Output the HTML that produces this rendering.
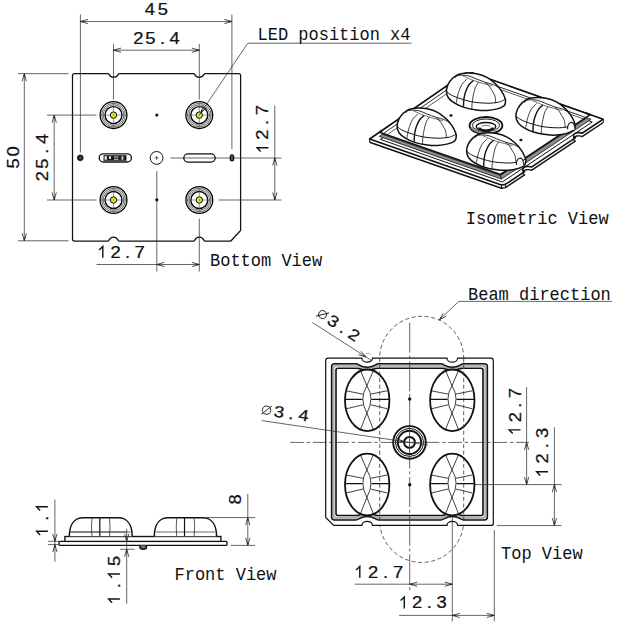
<!DOCTYPE html>
<html><head><meta charset="utf-8"><style>
html,body{margin:0;padding:0;background:#fff;overflow:hidden}
svg{display:block}
</style></head><body>
<svg width="617" height="625" viewBox="0 0 617 625">
<rect width="617" height="625" fill="#fff"/>
<path d="M74.5,73.6 L108.00,73.60 C109.30,73.60 109.00,77.30 113.60,77.30 C118.20,77.30 117.90,73.60 119.20,73.60 L193.70,73.60 C195.00,73.60 194.70,77.30 199.30,77.30 C203.90,77.30 203.60,73.60 204.90,73.60 L238.6,73.6 Q240.6,73.6 240.6,75.6 L240.6,230.5 L230.79999999999998,241.0 L204.70,241.00 C203.40,241.00 203.70,237.10 199.30,237.10 C194.90,237.10 195.20,241.00 193.90,241.00 L118.90,241.00 C117.60,241.00 117.90,237.10 113.50,237.10 C109.10,237.10 109.40,241.00 108.10,241.00 L74.5,241.0 Q72.5,241.0 72.5,239.0 L72.5,75.6 Q72.5,73.6 74.5,73.6 Z" fill="none" stroke="#111" stroke-width="1.25"/>
<line x1="156.80" y1="171.00" x2="156.80" y2="271.50" stroke="#333" stroke-width="0.75" />
<line x1="199.30" y1="218.80" x2="199.30" y2="271.50" stroke="#333" stroke-width="0.75" />
<line x1="113.50" y1="44.00" x2="113.50" y2="99.50" stroke="#333" stroke-width="0.75" />
<line x1="199.30" y1="44.00" x2="199.30" y2="99.50" stroke="#333" stroke-width="0.75" />
<line x1="80.40" y1="14.50" x2="80.40" y2="152.50" stroke="#333" stroke-width="0.75" />
<line x1="231.90" y1="14.50" x2="231.90" y2="149.00" stroke="#333" stroke-width="0.75" />
<line x1="170.40" y1="158.00" x2="281.50" y2="158.00" stroke="#333" stroke-width="0.75" />
<line x1="218.40" y1="200.00" x2="281.50" y2="200.00" stroke="#333" stroke-width="0.75" />
<line x1="47.00" y1="115.10" x2="96.50" y2="115.10" stroke="#333" stroke-width="0.75" />
<line x1="47.00" y1="200.00" x2="96.50" y2="200.00" stroke="#333" stroke-width="0.75" />
<line x1="18.00" y1="73.70" x2="68.50" y2="73.70" stroke="#333" stroke-width="0.75" />
<line x1="18.00" y1="240.80" x2="68.50" y2="240.80" stroke="#333" stroke-width="0.75" />
<circle cx="113.5" cy="115.1" r="13.4" fill="#fff" stroke="#000" stroke-width="1.3"/>
<circle cx="113.5" cy="115.1" r="11.8" fill="none" stroke="#000" stroke-width="0.6"/>
<circle cx="113.5" cy="115.1" r="10.3" fill="none" stroke="#000" stroke-width="0.6"/>
<circle cx="113.5" cy="115.1" r="8.5" fill="none" stroke="#000" stroke-width="1.4"/>
<line x1="113.50" y1="102.60" x2="113.50" y2="127.60" stroke="#555" stroke-width="0.6" />
<line x1="101.00" y1="115.10" x2="126.00" y2="115.10" stroke="#555" stroke-width="0.6" />
<circle cx="113.5" cy="115.1" r="3.2" fill="#e3e02a" stroke="#111" stroke-width="1.0"/>
<circle cx="113.5" cy="115.1" r="0.7" fill="#777"/>
<circle cx="199.3" cy="115.1" r="13.4" fill="#fff" stroke="#000" stroke-width="1.3"/>
<circle cx="199.3" cy="115.1" r="11.8" fill="none" stroke="#000" stroke-width="0.6"/>
<circle cx="199.3" cy="115.1" r="10.3" fill="none" stroke="#000" stroke-width="0.6"/>
<circle cx="199.3" cy="115.1" r="8.5" fill="none" stroke="#000" stroke-width="1.4"/>
<line x1="199.30" y1="102.60" x2="199.30" y2="127.60" stroke="#555" stroke-width="0.6" />
<line x1="186.80" y1="115.10" x2="211.80" y2="115.10" stroke="#555" stroke-width="0.6" />
<circle cx="199.3" cy="115.1" r="3.2" fill="#e3e02a" stroke="#111" stroke-width="1.0"/>
<circle cx="199.3" cy="115.1" r="0.7" fill="#777"/>
<circle cx="113.5" cy="200.0" r="13.4" fill="#fff" stroke="#000" stroke-width="1.3"/>
<circle cx="113.5" cy="200.0" r="11.8" fill="none" stroke="#000" stroke-width="0.6"/>
<circle cx="113.5" cy="200.0" r="10.3" fill="none" stroke="#000" stroke-width="0.6"/>
<circle cx="113.5" cy="200.0" r="8.5" fill="none" stroke="#000" stroke-width="1.4"/>
<line x1="113.50" y1="187.50" x2="113.50" y2="212.50" stroke="#555" stroke-width="0.6" />
<line x1="101.00" y1="200.00" x2="126.00" y2="200.00" stroke="#555" stroke-width="0.6" />
<circle cx="113.5" cy="200.0" r="3.2" fill="#e3e02a" stroke="#111" stroke-width="1.0"/>
<circle cx="113.5" cy="200.0" r="0.7" fill="#777"/>
<circle cx="199.3" cy="200.0" r="13.4" fill="#fff" stroke="#000" stroke-width="1.3"/>
<circle cx="199.3" cy="200.0" r="11.8" fill="none" stroke="#000" stroke-width="0.6"/>
<circle cx="199.3" cy="200.0" r="10.3" fill="none" stroke="#000" stroke-width="0.6"/>
<circle cx="199.3" cy="200.0" r="8.5" fill="none" stroke="#000" stroke-width="1.4"/>
<line x1="199.30" y1="187.50" x2="199.30" y2="212.50" stroke="#555" stroke-width="0.6" />
<line x1="186.80" y1="200.00" x2="211.80" y2="200.00" stroke="#555" stroke-width="0.6" />
<circle cx="199.3" cy="200.0" r="3.2" fill="#e3e02a" stroke="#111" stroke-width="1.0"/>
<circle cx="199.3" cy="200.0" r="0.7" fill="#777"/>
<circle cx="156.8" cy="115.1" r="1.6" fill="#111"/>
<circle cx="156.8" cy="199.8" r="1.6" fill="#111"/>
<circle cx="156.6" cy="157.9" r="6.4" fill="#fff" stroke="#111" stroke-width="1.0"/>
<line x1="156.60" y1="155.90" x2="156.60" y2="159.90" stroke="#222" stroke-width="0.7" />
<line x1="154.60" y1="157.90" x2="158.60" y2="157.90" stroke="#222" stroke-width="0.7" />
<circle cx="80.3" cy="157.8" r="2.9" fill="#222" stroke="#111" stroke-width="0.8"/>
<circle cx="80.3" cy="157.8" r="1" fill="#666"/>
<rect x="99.2" y="153.8" width="32.2" height="8.2" rx="4.1" fill="#fff" stroke="#111" stroke-width="1.3"/>
<path d="M103.5,155.2 h23 v5.6 h-23z" fill="#1a1a1a"/>
<path d="M104.5,156.3 h2.5 v3.5 h-2.5z M109,156.3 h2 v2.6 h-2z M114,156.6 h4.5 v1 h-4.5z M114,158.8 h4.5 v1 h-4.5z M121.5,156.3 h1.8 v3.5 h-1.8z" fill="#fff" opacity="0.85"/>
<rect x="183.8" y="153.9" width="31.4" height="8.2" rx="4.1" fill="none" stroke="#111" stroke-width="1.3"/>
<rect x="230.3" y="154.9" width="3.3" height="6.0" rx="1.65" fill="#555" stroke="#111" stroke-width="1.3"/>
<line x1="80.40" y1="21.50" x2="231.90" y2="21.50" stroke="#333" stroke-width="0.75" />
<path d="M87.90,19.40 L80.40,21.50 L87.90,23.60" fill="none" stroke="#222" stroke-width="0.8"/>
<path d="M80.40,21.50 L83.40,20.70 L83.40,22.30Z" fill="#222"/>
<path d="M224.40,23.60 L231.90,21.50 L224.40,19.40" fill="none" stroke="#222" stroke-width="0.8"/>
<path d="M231.90,21.50 L228.90,22.30 L228.90,20.70Z" fill="#222"/>
<line x1="113.50" y1="50.20" x2="199.30" y2="50.20" stroke="#333" stroke-width="0.75" />
<path d="M121.00,48.10 L113.50,50.20 L121.00,52.30" fill="none" stroke="#222" stroke-width="0.8"/>
<path d="M113.50,50.20 L116.50,49.40 L116.50,51.00Z" fill="#222"/>
<path d="M191.80,52.30 L199.30,50.20 L191.80,48.10" fill="none" stroke="#222" stroke-width="0.8"/>
<path d="M199.30,50.20 L196.30,51.00 L196.30,49.40Z" fill="#222"/>
<line x1="24.30" y1="73.70" x2="24.30" y2="240.80" stroke="#333" stroke-width="0.75" />
<path d="M26.40,81.20 L24.30,73.70 L22.20,81.20" fill="none" stroke="#222" stroke-width="0.8"/>
<path d="M24.30,73.70 L25.10,76.70 L23.50,76.70Z" fill="#222"/>
<path d="M22.20,233.30 L24.30,240.80 L26.40,233.30" fill="none" stroke="#222" stroke-width="0.8"/>
<path d="M24.30,240.80 L23.50,237.80 L25.10,237.80Z" fill="#222"/>
<line x1="54.20" y1="115.10" x2="54.20" y2="200.00" stroke="#333" stroke-width="0.75" />
<path d="M56.30,122.60 L54.20,115.10 L52.10,122.60" fill="none" stroke="#222" stroke-width="0.8"/>
<path d="M54.20,115.10 L55.00,118.10 L53.40,118.10Z" fill="#222"/>
<path d="M52.10,192.50 L54.20,200.00 L56.30,192.50" fill="none" stroke="#222" stroke-width="0.8"/>
<path d="M54.20,200.00 L53.40,197.00 L55.00,197.00Z" fill="#222"/>
<line x1="274.80" y1="105.50" x2="274.80" y2="200.00" stroke="#333" stroke-width="0.75" />
<path d="M276.90,165.50 L274.80,158.00 L272.70,165.50" fill="none" stroke="#222" stroke-width="0.8"/>
<path d="M274.80,158.00 L275.60,161.00 L274.00,161.00Z" fill="#222"/>
<path d="M272.70,192.50 L274.80,200.00 L276.90,192.50" fill="none" stroke="#222" stroke-width="0.8"/>
<path d="M274.80,200.00 L274.00,197.00 L275.60,197.00Z" fill="#222"/>
<line x1="96.50" y1="264.50" x2="199.30" y2="264.50" stroke="#333" stroke-width="0.75" />
<path d="M164.30,262.40 L156.80,264.50 L164.30,266.60" fill="none" stroke="#222" stroke-width="0.8"/>
<path d="M156.80,264.50 L159.80,263.70 L159.80,265.30Z" fill="#222"/>
<path d="M191.80,266.60 L199.30,264.50 L191.80,262.40" fill="none" stroke="#222" stroke-width="0.8"/>
<path d="M199.30,264.50 L196.30,265.30 L196.30,263.70Z" fill="#222"/>
<line x1="199.30" y1="115.10" x2="247.80" y2="43.20" stroke="#333" stroke-width="0.75" />
<line x1="247.80" y1="43.20" x2="411.50" y2="43.20" stroke="#333" stroke-width="0.75" />
<path d="M203.19,105.53 L200.76,112.93 L206.68,107.87" fill="none" stroke="#222" stroke-width="0.8"/>
<path d="M200.76,112.93 L201.76,109.99 L203.09,110.89Z" fill="#222"/>
<g font-family="Liberation Sans" font-size="16" fill="#111" stroke="#111" stroke-width="0.25" transform="translate(149.95 14.75)"><text x="0" y="0" text-anchor="middle" transform="translate(0.00 0) scale(1.15 1)">4</text><text x="0" y="0" text-anchor="middle" transform="translate(12.80 0) scale(1.15 1)">5</text></g>
<g font-family="Liberation Sans" font-size="16" fill="#111" stroke="#111" stroke-width="0.25" transform="translate(138.35 43.70)"><text x="0" y="0" text-anchor="middle" transform="translate(0.00 0) scale(1.15 1)">2</text><text x="0" y="0" text-anchor="middle" transform="translate(12.10 0) scale(1.15 1)">5</text><text x="0" y="0" text-anchor="middle" transform="translate(24.20 0) scale(1.15 1)">.</text><text x="0" y="0" text-anchor="middle" transform="translate(36.30 0) scale(1.15 1)">4</text></g>
<text x="0" y="0" text-anchor="start" font-family="Liberation Mono" font-size="18" fill="#111" transform="translate(257.50 40.40) scale(0.945 1)">LED position x4</text>
<g font-family="Liberation Sans" font-size="16" fill="#111" stroke="#111" stroke-width="0.25" transform="translate(18.50 163.50) rotate(-90)"><text x="0" y="0" text-anchor="middle" transform="translate(0.00 0) scale(1.15 1)">5</text><text x="0" y="0" text-anchor="middle" transform="translate(12.10 0) scale(1.15 1)">0</text></g>
<g font-family="Liberation Sans" font-size="16" fill="#111" stroke="#111" stroke-width="0.25" transform="translate(47.70 176.20) rotate(-90)"><text x="0" y="0" text-anchor="middle" transform="translate(0.00 0) scale(1.15 1)">2</text><text x="0" y="0" text-anchor="middle" transform="translate(12.45 0) scale(1.15 1)">5</text><text x="0" y="0" text-anchor="middle" transform="translate(24.90 0) scale(1.15 1)">.</text><text x="0" y="0" text-anchor="middle" transform="translate(37.35 0) scale(1.15 1)">4</text></g>
<g font-family="Liberation Sans" font-size="16" fill="#111" stroke="#111" stroke-width="0.25" transform="translate(268.40 147.00) rotate(-90)"><path d="M-0.70,0 V-11.30 L-4.40,-7.80" fill="none" stroke="#111" stroke-width="1.40" stroke-linejoin="miter" transform="translate(0.00 0)"/><text x="0" y="0" text-anchor="middle" transform="translate(12.30 0) scale(1.15 1)">2</text><text x="0" y="0" text-anchor="middle" transform="translate(24.60 0) scale(1.15 1)">.</text><text x="0" y="0" text-anchor="middle" transform="translate(36.90 0) scale(1.15 1)">7</text></g>
<g font-family="Liberation Sans" font-size="16" fill="#111" stroke="#111" stroke-width="0.25" transform="translate(103.50 257.80)"><path d="M-0.70,0 V-11.30 L-4.40,-7.80" fill="none" stroke="#111" stroke-width="1.40" stroke-linejoin="miter" transform="translate(0.00 0)"/><text x="0" y="0" text-anchor="middle" transform="translate(12.00 0) scale(1.15 1)">2</text><text x="0" y="0" text-anchor="middle" transform="translate(24.00 0) scale(1.15 1)">.</text><text x="0" y="0" text-anchor="middle" transform="translate(36.00 0) scale(1.15 1)">7</text></g>
<text x="0" y="0" text-anchor="start" font-family="Liberation Mono" font-size="18" fill="#111" transform="translate(210.00 266.00) scale(0.945 1)">Bottom View</text>
<text x="0" y="0" text-anchor="start" font-family="Liberation Mono" font-size="18" fill="#111" transform="translate(465.80 224.30) scale(0.945 1)">Isometric View</text>
<text x="0" y="0" text-anchor="start" font-family="Liberation Mono" font-size="18" fill="#111" transform="translate(468.00 299.50) scale(0.945 1)">Beam direction</text>
<text x="0" y="0" text-anchor="start" font-family="Liberation Mono" font-size="18" fill="#111" transform="translate(501.00 558.50) scale(0.945 1)">Top View</text>
<text x="0" y="0" text-anchor="start" font-family="Liberation Mono" font-size="18" fill="#111" transform="translate(174.50 580.10) scale(0.945 1)">Front View</text>
<path d="M379.7,520.4 L379.7,358.3 A42,42 0 0 1 463.7,358.3 L463.7,520.4 A42,42 0 0 1 379.7,520.4 Z" fill="none" stroke="#333" stroke-width="0.8" stroke-dasharray="4 2.6"/>
<line x1="458.80" y1="301.40" x2="611.90" y2="301.40" stroke="#333" stroke-width="0.75" />
<line x1="458.80" y1="301.40" x2="439.30" y2="319.80" stroke="#333" stroke-width="0.75" />
<path d="M443.31,313.13 L439.30,319.80 L446.20,316.18" fill="none" stroke="#222" stroke-width="0.8"/>
<path d="M439.30,319.80 L440.93,317.16 L442.03,318.32Z" fill="#222"/>
<path d="M328.2,358.2 L361.90,358.20 A5.30,4.00 0 0 0 372.50,358.20 L447.00,358.20 A5.30,4.00 0 0 0 457.60,358.20 L490.8,358.2 Q493.3,358.2 493.3,360.7 L493.3,523.4 Q493.3,525.4 491.3,525.4 L457.60,525.40 A5.30,4.00 0 0 0 447.00,525.40 L372.50,525.40 A5.30,4.00 0 0 0 361.90,525.40 L333.7,525.4 L325.7,517.4 L325.7,360.7 Q325.7,358.2 328.2,358.2 Z" fill="#fff" stroke="#111" stroke-width="1.2"/>
<path d="M336.4,365.6 L355.70,365.6 C359.20,365.6 360.20,368.80 367.20,368.80 C374.20,368.80 375.20,365.6 378.70,365.6 L440.80,365.6 C444.30,365.6 445.30,368.80 452.30,368.80 C459.30,368.80 460.30,365.6 463.80,365.6 L482.5,365.6 Q485.5,365.6 485.5,368.6 L485.5,515.0 Q485.5,518.0 482.5,518.0 L463.80,518.0 C460.30,518.0 459.30,514.80 452.30,514.80 C445.30,514.80 444.30,518.0 440.80,518.0 L378.70,518.0 C375.20,518.0 374.20,514.80 367.20,514.80 C360.20,514.80 359.20,518.0 355.70,518.0 L336.4,518.0 Q333.4,518.0 333.4,515.0 L333.4,368.6 Q333.4,365.6 336.4,365.6 Z" fill="none" stroke="#b0b0b0" stroke-width="2.4"/>
<path d="M334.6,363.8 L355.70,363.8 C359.20,363.8 360.20,367.20 367.20,367.20 C374.20,367.20 375.20,363.8 378.70,363.8 L440.80,363.8 C444.30,363.8 445.30,367.20 452.30,367.20 C459.30,367.20 460.30,363.8 463.80,363.8 L484.4,363.8 Q487.4,363.8 487.4,366.8 L487.4,516.9 Q487.4,519.9 484.4,519.9 L463.80,519.9 C460.30,519.9 459.30,516.50 452.30,516.50 C445.30,516.50 444.30,519.9 440.80,519.9 L378.70,519.9 C375.20,519.9 374.20,516.50 367.20,516.50 C360.20,516.50 359.20,519.9 355.70,519.9 L334.6,519.9 Q331.6,519.9 331.6,516.9 L331.6,366.8 Q331.6,363.8 334.6,363.8 Z" fill="none" stroke="#111" stroke-width="1.5"/>
<path d="M338.0,368.2 L356.70,368.2 C360.20,368.2 361.20,370.40 367.20,370.40 C373.20,370.40 374.20,368.2 377.70,368.2 L441.80,368.2 C445.30,368.2 446.30,370.40 452.30,370.40 C458.30,370.40 459.30,368.2 462.80,368.2 L481.0,368.2 Q483.0,368.2 483.0,370.2 L483.0,513.5 Q483.0,515.5 481.0,515.5 L462.80,515.5 C459.30,515.5 458.30,513.30 452.30,513.30 C446.30,513.30 445.30,515.5 441.80,515.5 L377.70,515.5 C374.20,515.5 373.20,513.30 367.20,513.30 C361.20,513.30 360.20,515.5 356.70,515.5 L338.0,515.5 Q336.0,515.5 336.0,513.5 L336.0,370.2 Q336.0,368.2 338.0,368.2 Z" fill="none" stroke="#111" stroke-width="1.6"/>
<path d="M365.7,353.59999999999997 A5,5 0 0 1 370.7,354.2" fill="none" stroke="#555" stroke-width="0.5"/>
<line x1="290.20" y1="442.40" x2="528.90" y2="442.40" stroke="#333" stroke-width="0.75" stroke-dasharray="13.6 2.8 3.4 2.8"/>
<line x1="409.70" y1="322.70" x2="409.70" y2="591.00" stroke="#333" stroke-width="0.75" stroke-dasharray="30 2.8 3 2.8"/>
<ellipse cx="367.2" cy="400.3" rx="22.2" ry="30.8" fill="#fff" stroke="#111" stroke-width="1.8"/>
<path d="M360.2,370.0 L366.9,385.7 Q375.0,398.40000000000003 366.9,413.2 L373.59999999999997,430.1 M373.59999999999997,370.0 L366.9,385.7 Q358.8,398.40000000000003 366.9,413.2 L360.2,430.1 M346.2,390.8 L363.0,394.1 M346.7,408.7 L363.0,404.8 M387.0,390.8 L370.8,394.1 M387.0,408.7 L370.8,404.8 " fill="none" stroke="#111" stroke-width="0.8"/>
<path d="M345.59999999999997,399.40000000000003 L362.4,399.40000000000003 M389.3,399.40000000000003 L371.4,399.40000000000003" fill="none" stroke="#111" stroke-width="1.2"/>
<ellipse cx="452.3" cy="400.3" rx="22.2" ry="30.8" fill="#fff" stroke="#111" stroke-width="1.8"/>
<path d="M445.3,370.0 L452.0,385.7 Q460.1,398.40000000000003 452.0,413.2 L458.7,430.1 M458.7,370.0 L452.0,385.7 Q443.90000000000003,398.40000000000003 452.0,413.2 L445.3,430.1 M431.3,390.8 L448.1,394.1 M431.8,408.7 L448.1,404.8 M472.1,390.8 L455.90000000000003,394.1 M472.1,408.7 L455.90000000000003,404.8 " fill="none" stroke="#111" stroke-width="0.8"/>
<path d="M430.7,399.40000000000003 L447.5,399.40000000000003 M474.40000000000003,399.40000000000003 L456.5,399.40000000000003" fill="none" stroke="#111" stroke-width="1.2"/>
<ellipse cx="367.2" cy="484.5" rx="22.2" ry="30.8" fill="#fff" stroke="#111" stroke-width="1.8"/>
<path d="M360.2,454.2 L366.9,469.9 Q375.0,482.6 366.9,497.4 L373.59999999999997,514.3 M373.59999999999997,454.2 L366.9,469.9 Q358.8,482.6 366.9,497.4 L360.2,514.3 M346.2,475.0 L363.0,478.3 M346.7,492.9 L363.0,489.0 M387.0,475.0 L370.8,478.3 M387.0,492.9 L370.8,489.0 " fill="none" stroke="#111" stroke-width="0.8"/>
<path d="M345.59999999999997,483.6 L362.4,483.6 M389.3,483.6 L371.4,483.6" fill="none" stroke="#111" stroke-width="1.2"/>
<ellipse cx="452.3" cy="484.5" rx="22.2" ry="30.8" fill="#fff" stroke="#111" stroke-width="1.8"/>
<path d="M445.3,454.2 L452.0,469.9 Q460.1,482.6 452.0,497.4 L458.7,514.3 M458.7,454.2 L452.0,469.9 Q443.90000000000003,482.6 452.0,497.4 L445.3,514.3 M431.3,475.0 L448.1,478.3 M431.8,492.9 L448.1,489.0 M472.1,475.0 L455.90000000000003,478.3 M472.1,492.9 L455.90000000000003,489.0 " fill="none" stroke="#111" stroke-width="0.8"/>
<path d="M430.7,483.6 L447.5,483.6 M474.40000000000003,483.6 L456.5,483.6" fill="none" stroke="#111" stroke-width="1.2"/>
<path d="M379.7,358.3 L379.7,520.4 M463.7,358.3 L463.7,520.4" fill="none" stroke="#333" stroke-width="0.8" stroke-dasharray="4 2.6"/>
<circle cx="409.5" cy="442.4" r="16.3" fill="#fff" stroke="#111" stroke-width="1.9"/>
<circle cx="409.5" cy="442.4" r="14.0" fill="none" stroke="#111" stroke-width="1.0"/>
<circle cx="409.5" cy="442.4" r="11.6" fill="none" stroke="#111" stroke-width="1.9"/>
<circle cx="409.5" cy="442.4" r="5.4" fill="none" stroke="#111" stroke-width="2.0"/>
<line x1="409.50" y1="424.40" x2="409.50" y2="460.40" stroke="#333" stroke-width="0.75" />
<line x1="391.50" y1="442.40" x2="427.50" y2="442.40" stroke="#333" stroke-width="0.75" />
<circle cx="409.7" cy="399.0" r="1.7" fill="#111"/>
<circle cx="409.7" cy="484.7" r="1.7" fill="#111"/>
<line x1="474.50" y1="484.60" x2="561.60" y2="484.60" stroke="#333" stroke-width="0.75" />
<line x1="496.90" y1="525.60" x2="561.60" y2="525.60" stroke="#333" stroke-width="0.75" />
<line x1="526.60" y1="387.20" x2="526.60" y2="484.60" stroke="#333" stroke-width="0.75" />
<path d="M528.70,449.90 L526.60,442.40 L524.50,449.90" fill="none" stroke="#222" stroke-width="0.8"/>
<path d="M526.60,442.40 L527.40,445.40 L525.80,445.40Z" fill="#222"/>
<path d="M524.50,477.10 L526.60,484.60 L528.70,477.10" fill="none" stroke="#222" stroke-width="0.8"/>
<path d="M526.60,484.60 L525.80,481.60 L527.40,481.60Z" fill="#222"/>
<line x1="554.40" y1="427.20" x2="554.40" y2="525.60" stroke="#333" stroke-width="0.75" />
<path d="M556.50,492.10 L554.40,484.60 L552.30,492.10" fill="none" stroke="#222" stroke-width="0.8"/>
<path d="M554.40,484.60 L555.20,487.60 L553.60,487.60Z" fill="#222"/>
<path d="M552.30,518.10 L554.40,525.60 L556.50,518.10" fill="none" stroke="#222" stroke-width="0.8"/>
<path d="M554.40,525.60 L553.60,522.60 L555.20,522.60Z" fill="#222"/>
<g font-family="Liberation Sans" font-size="16" fill="#111" stroke="#111" stroke-width="0.25" transform="translate(520.50 429.20) rotate(-90)"><path d="M-0.70,0 V-11.30 L-4.40,-7.80" fill="none" stroke="#111" stroke-width="1.40" stroke-linejoin="miter" transform="translate(0.00 0)"/><text x="0" y="0" text-anchor="middle" transform="translate(12.00 0) scale(1.15 1)">2</text><text x="0" y="0" text-anchor="middle" transform="translate(24.00 0) scale(1.15 1)">.</text><text x="0" y="0" text-anchor="middle" transform="translate(36.00 0) scale(1.15 1)">7</text></g>
<g font-family="Liberation Sans" font-size="16" fill="#111" stroke="#111" stroke-width="0.25" transform="translate(548.00 471.00) rotate(-90)"><path d="M-0.70,0 V-11.30 L-4.40,-7.80" fill="none" stroke="#111" stroke-width="1.40" stroke-linejoin="miter" transform="translate(0.00 0)"/><text x="0" y="0" text-anchor="middle" transform="translate(12.70 0) scale(1.15 1)">2</text><text x="0" y="0" text-anchor="middle" transform="translate(25.40 0) scale(1.15 1)">.</text><text x="0" y="0" text-anchor="middle" transform="translate(38.10 0) scale(1.15 1)">3</text></g>
<line x1="452.30" y1="516.00" x2="452.30" y2="621.30" stroke="#333" stroke-width="0.75" />
<line x1="494.30" y1="530.00" x2="494.30" y2="621.30" stroke="#333" stroke-width="0.75" />
<line x1="354.80" y1="584.20" x2="452.30" y2="584.20" stroke="#333" stroke-width="0.75" />
<path d="M417.20,582.10 L409.70,584.20 L417.20,586.30" fill="none" stroke="#222" stroke-width="0.8"/>
<path d="M409.70,584.20 L412.70,583.40 L412.70,585.00Z" fill="#222"/>
<path d="M444.80,586.30 L452.30,584.20 L444.80,582.10" fill="none" stroke="#222" stroke-width="0.8"/>
<path d="M452.30,584.20 L449.30,585.00 L449.30,583.40Z" fill="#222"/>
<line x1="399.10" y1="615.40" x2="494.30" y2="615.40" stroke="#333" stroke-width="0.75" />
<path d="M459.80,613.30 L452.30,615.40 L459.80,617.50" fill="none" stroke="#222" stroke-width="0.8"/>
<path d="M452.30,615.40 L455.30,614.60 L455.30,616.20Z" fill="#222"/>
<path d="M486.80,617.50 L494.30,615.40 L486.80,613.30" fill="none" stroke="#222" stroke-width="0.8"/>
<path d="M494.30,615.40 L491.30,616.20 L491.30,614.60Z" fill="#222"/>
<g font-family="Liberation Sans" font-size="16" fill="#111" stroke="#111" stroke-width="0.25" transform="translate(360.50 577.70)"><path d="M-0.70,0 V-11.30 L-4.40,-7.80" fill="none" stroke="#111" stroke-width="1.40" stroke-linejoin="miter" transform="translate(0.00 0)"/><text x="0" y="0" text-anchor="middle" transform="translate(12.50 0) scale(1.15 1)">2</text><text x="0" y="0" text-anchor="middle" transform="translate(25.00 0) scale(1.15 1)">.</text><text x="0" y="0" text-anchor="middle" transform="translate(37.50 0) scale(1.15 1)">7</text></g>
<g font-family="Liberation Sans" font-size="16" fill="#111" stroke="#111" stroke-width="0.25" transform="translate(405.00 608.40)"><path d="M-0.70,0 V-11.30 L-4.40,-7.80" fill="none" stroke="#111" stroke-width="1.40" stroke-linejoin="miter" transform="translate(0.00 0)"/><text x="0" y="0" text-anchor="middle" transform="translate(12.20 0) scale(1.15 1)">2</text><text x="0" y="0" text-anchor="middle" transform="translate(24.40 0) scale(1.15 1)">.</text><text x="0" y="0" text-anchor="middle" transform="translate(36.60 0) scale(1.15 1)">3</text></g>
<line x1="312.40" y1="322.50" x2="371.50" y2="360.50" stroke="#333" stroke-width="0.75" />
<path d="M358.56,354.71 L366.00,357.00 L360.83,351.18" fill="none" stroke="#222" stroke-width="0.8"/>
<path d="M366.00,357.00 L363.04,356.05 L363.91,354.70Z" fill="#222"/>
<line x1="261.70" y1="420.60" x2="428.00" y2="445.10" stroke="#333" stroke-width="0.75" />
<path d="M396.07,442.58 L403.80,441.60 L396.69,438.43" fill="none" stroke="#222" stroke-width="0.8"/>
<path d="M403.80,441.60 L400.72,441.95 L400.95,440.37Z" fill="#222"/>
<g transform="translate(330.20 325.80) rotate(33)"><circle cx="-12.50" cy="-5.3" r="4.1" fill="none" stroke="#222" stroke-width="0.9"/><line x1="-17.10" y1="-0.4" x2="-7.90" y2="-10.2" stroke="#222" stroke-width="0.9"/></g>
<g font-family="Liberation Sans" font-size="16" fill="#111" stroke="#111" stroke-width="0.25" transform="translate(330.20 325.80) rotate(33)"><text x="0" y="0" text-anchor="middle" transform="translate(0.00 0) scale(1.15 1)">3</text><text x="0" y="0" text-anchor="middle" transform="translate(12.50 0) scale(1.15 1)">.</text><text x="0" y="0" text-anchor="middle" transform="translate(25.00 0) scale(1.15 1)">2</text></g>
<g transform="translate(278.20 417.20) rotate(8.4)"><circle cx="-12.50" cy="-5.3" r="4.1" fill="none" stroke="#222" stroke-width="0.9"/><line x1="-17.10" y1="-0.4" x2="-7.90" y2="-10.2" stroke="#222" stroke-width="0.9"/></g>
<g font-family="Liberation Sans" font-size="16" fill="#111" stroke="#111" stroke-width="0.25" transform="translate(278.20 417.20) rotate(8.4)"><text x="0" y="0" text-anchor="middle" transform="translate(0.00 0) scale(1.15 1)">3</text><text x="0" y="0" text-anchor="middle" transform="translate(12.50 0) scale(1.15 1)">.</text><text x="0" y="0" text-anchor="middle" transform="translate(25.00 0) scale(1.15 1)">4</text></g>
<rect x="59.0" y="541.4" width="168.0" height="4.0" rx="1.2" fill="#fff" stroke="#111" stroke-width="1.35"/>
<rect x="64.9" y="536.5" width="156.0" height="4.9" fill="#fff" stroke="#111" stroke-width="1.35"/>
<path d="M69.3,536.3 C69.3,524.5 74.5,517.8 83.3,517.8 L118.19999999999999,517.8 C126.99999999999999,517.8 132.2,524.5 132.2,536.3" fill="#fff" stroke="#111" stroke-width="1.5"/>
<line x1="70.60" y1="532.00" x2="130.90" y2="532.00" stroke="#333" stroke-width="0.75" />
<path d="M91.94,518.5 Q91.00,527 91.94,536 M109.56,518.5 Q110.50,527 109.56,536" fill="none" stroke="#222" stroke-width="0.75"/>
<line x1="99.81" y1="517.80" x2="99.81" y2="536.30" stroke="#111" stroke-width="1.2" />
<path d="M154.3,536.3 C154.3,524.5 159.5,517.8 168.3,517.8 L202.6,517.8 C211.4,517.8 216.6,524.5 216.6,536.3" fill="#fff" stroke="#111" stroke-width="1.5"/>
<line x1="155.60" y1="532.00" x2="215.30" y2="532.00" stroke="#333" stroke-width="0.75" />
<path d="M176.73,518.5 Q175.79,527 176.73,536 M194.17,518.5 Q195.11,527 194.17,536" fill="none" stroke="#222" stroke-width="0.75"/>
<line x1="184.52" y1="517.80" x2="184.52" y2="536.30" stroke="#111" stroke-width="1.2" />
<line x1="70.00" y1="532.00" x2="126.70" y2="532.00" stroke="#333" stroke-width="0.75" />
<path d="M140.0,545.6 L140.0,547.3 Q140,549.2 143.2,549.2 Q146.4,549.2 146.4,547.3 L146.4,545.6" fill="#777" stroke="#111" stroke-width="1.6"/>
<line x1="54.90" y1="499.50" x2="54.90" y2="561.70" stroke="#333" stroke-width="0.75" />
<path d="M52.80,533.80 L54.90,541.30 L57.00,533.80" fill="none" stroke="#222" stroke-width="0.8"/>
<path d="M54.90,541.30 L54.10,538.30 L55.70,538.30Z" fill="#222"/>
<path d="M57.00,552.10 L54.90,544.60 L52.80,552.10" fill="none" stroke="#222" stroke-width="0.8"/>
<path d="M54.90,544.60 L55.70,547.60 L54.10,547.60Z" fill="#222"/>
<line x1="48.00" y1="541.30" x2="59.00" y2="541.30" stroke="#333" stroke-width="0.75" />
<line x1="48.00" y1="544.60" x2="59.00" y2="544.60" stroke="#333" stroke-width="0.75" />
<line x1="126.70" y1="528.80" x2="126.70" y2="603.70" stroke="#333" stroke-width="0.75" />
<path d="M124.60,533.80 L126.70,541.30 L128.80,533.80" fill="none" stroke="#222" stroke-width="0.8"/>
<path d="M126.70,541.30 L125.90,538.30 L127.50,538.30Z" fill="#222"/>
<path d="M128.80,556.80 L126.70,549.30 L124.60,556.80" fill="none" stroke="#222" stroke-width="0.8"/>
<path d="M126.70,549.30 L127.50,552.30 L125.90,552.30Z" fill="#222"/>
<line x1="120.20" y1="549.30" x2="134.40" y2="549.30" stroke="#333" stroke-width="0.75" />
<line x1="206.50" y1="517.60" x2="255.10" y2="517.60" stroke="#333" stroke-width="0.75" />
<line x1="230.80" y1="545.40" x2="255.10" y2="545.40" stroke="#333" stroke-width="0.75" />
<line x1="247.80" y1="493.80" x2="247.80" y2="545.40" stroke="#333" stroke-width="0.75" />
<path d="M249.90,525.10 L247.80,517.60 L245.70,525.10" fill="none" stroke="#222" stroke-width="0.8"/>
<path d="M247.80,517.60 L248.60,520.60 L247.00,520.60Z" fill="#222"/>
<path d="M245.70,537.90 L247.80,545.40 L249.90,537.90" fill="none" stroke="#222" stroke-width="0.8"/>
<path d="M247.80,545.40 L247.00,542.40 L248.60,542.40Z" fill="#222"/>
<g font-family="Liberation Sans" font-size="16" fill="#111" stroke="#111" stroke-width="0.25" transform="translate(47.90 530.50) rotate(-90)"><path d="M-0.70,0 V-11.30 L-4.40,-7.80" fill="none" stroke="#111" stroke-width="1.40" stroke-linejoin="miter" transform="translate(0.00 0)"/><text x="0" y="0" text-anchor="middle" transform="translate(12.20 0) scale(1.15 1)">.</text><path d="M-0.70,0 V-11.30 L-4.40,-7.80" fill="none" stroke="#111" stroke-width="1.40" stroke-linejoin="miter" transform="translate(24.40 0)"/></g>
<g font-family="Liberation Sans" font-size="16" fill="#111" stroke="#111" stroke-width="0.25" transform="translate(119.90 598.30) rotate(-90)"><path d="M-0.70,0 V-11.30 L-4.40,-7.80" fill="none" stroke="#111" stroke-width="1.40" stroke-linejoin="miter" transform="translate(0.00 0)"/><text x="0" y="0" text-anchor="middle" transform="translate(12.50 0) scale(1.15 1)">.</text><path d="M-0.70,0 V-11.30 L-4.40,-7.80" fill="none" stroke="#111" stroke-width="1.40" stroke-linejoin="miter" transform="translate(25.00 0)"/><text x="0" y="0" text-anchor="middle" transform="translate(37.50 0) scale(1.15 1)">5</text></g>
<text x="0" y="0" text-anchor="middle" font-family="Liberation Sans" font-size="16" fill="#111" stroke="#111" stroke-width="0.25" transform="translate(241.30 499.50) rotate(-90) scale(1.15 1)">8</text>
<path d="M464.90,73.39 L369.63,139.03 L501.43,185.03 L505.43,184.40 L524.59,171.62 L523.67,171.05 L523.05,170.36 L522.76,169.61 L522.83,168.84 L523.25,168.10 L523.99,167.45 L525.00,166.93 L526.22,166.58 L527.56,166.41 L528.93,166.44 L530.23,166.67 L531.38,167.09 L575.30,137.80 L574.38,137.23 L573.75,136.54 L573.46,135.79 L573.53,135.02 L573.95,134.28 L574.69,133.63 L575.71,133.11 L576.92,132.76 L578.26,132.59 L579.63,132.62 L580.93,132.85 L582.09,133.27 L603.25,119.16 L471.91,72.79 Z" fill="#fff" stroke="#111" stroke-width="1.6" stroke-linejoin="round" />
<path d="M369.63,142.23 L501.43,188.23 L505.43,187.60 L524.59,174.84 L523.67,174.27 L523.05,173.58 L522.76,172.83 L522.83,172.06 L523.25,171.33 L523.99,170.68 L525.00,170.16 L526.22,169.80 L527.56,169.64 L528.93,169.67 L530.23,169.90 L531.38,170.32 L575.30,141.07 L574.38,140.50 L573.75,139.82 L573.46,139.06 L573.53,138.29 L573.95,137.56 L574.69,136.91 L575.71,136.39 L576.92,136.03 L578.26,135.87 L579.63,135.90 L580.93,136.13 L582.09,136.55 L603.25,122.46" fill="none" stroke="#111" stroke-width="1.4" stroke-linejoin="round" />
<line x1="369.63" y1="139.03" x2="369.63" y2="142.28" stroke="#111" stroke-width="1.1" />
<line x1="603.25" y1="119.16" x2="603.25" y2="122.41" stroke="#111" stroke-width="1.1" />
<line x1="501.43" y1="185.03" x2="501.43" y2="188.23" stroke="#111" stroke-width="1.0" />
<line x1="505.43" y1="184.40" x2="505.43" y2="187.70" stroke="#111" stroke-width="1.0" />
<path d="M463.75,78.19 L382.20,134.38" fill="none" stroke="#111" stroke-width="0.9" stroke-linejoin="round" />
<path d="M472.45,77.49 L586.80,117.85" fill="none" stroke="#111" stroke-width="0.9" stroke-linejoin="round" />
<path d="M464.48,81.48 L387.50,134.52" fill="none" stroke="#333" stroke-width="0.8" stroke-linejoin="round" />
<path d="M475.07,80.61 L582.40,118.50" fill="none" stroke="#333" stroke-width="0.8" stroke-linejoin="round" />
<path d="M385.73,135.74 L380.42,139.40 L502.35,181.95 L592.26,121.98 L582.40,118.50" fill="none" stroke="#111" stroke-width="1.0" stroke-linejoin="round" />
<path d="M379.27,136.40 L501.47,179.04 L500.38,175.46 L382.35,134.27 Z" fill="#8e8e8e" stroke="#111" stroke-width="0.8" stroke-linejoin="round" />
<path d="M501.47,179.04 L590.99,119.33 L586.77,117.84 L500.38,175.46 Z" fill="#8e8e8e" stroke="#111" stroke-width="0.8" stroke-linejoin="round" />
<path d="M382.11,130.44 L379.46,132.26 L500.48,174.50 L590.30,114.59 L585.41,112.86" fill="none" stroke="#111" stroke-width="1.7" stroke-linejoin="round" />
<path d="M382.11,130.44 L465.20,73.19" fill="none" stroke="#111" stroke-width="1.0" stroke-linejoin="round" />
<path d="M585.41,112.86 L471.52,72.66" fill="none" stroke="#111" stroke-width="1.0" stroke-linejoin="round" />
<ellipse cx="451.00" cy="115.50" rx="1.6" ry="1.2" fill="#111"/>
<ellipse cx="520.90" cy="140.00" rx="1.6" ry="1.2" fill="#111"/>
<ellipse cx="486" cy="125.6" rx="16.4" ry="8.6" fill="#fff" stroke="#111" stroke-width="1.9"/>
<path d="M471.2,127.5 A15,7.4 0 0 0 486,133.0" fill="none" stroke="#888" stroke-width="1.8"/>
<ellipse cx="486" cy="125.3" rx="13.6" ry="6.3" fill="none" stroke="#222" stroke-width="1.0"/>
<ellipse cx="486" cy="126.5" rx="9.8" ry="4.0" fill="#fff" stroke="#111" stroke-width="1.4"/>
<path d="M479.5,127.6 A6.5,3.0 0 0 0 492.5,127.6" fill="none" stroke="#111" stroke-width="2.2"/>
<path d="M481.5,126.2 Q486,124.2 490.5,126.2" fill="none" stroke="#555" stroke-width="0.8"/>
<g transform="translate(49.30 -35.00)"><path d="M397.10,126.30 C397.02,124.07 397.67,121.77 398.70,119.60 C399.73,117.43 401.48,115.03 403.30,113.30 C405.12,111.57 407.17,110.10 409.60,109.20 C412.03,108.30 414.97,107.98 417.90,107.90 C420.83,107.82 423.92,107.97 427.20,108.70 C430.48,109.43 434.48,110.67 437.60,112.30 C440.72,113.93 443.48,116.25 445.90,118.50 C448.32,120.75 450.47,123.38 452.10,125.80 C453.73,128.22 455.02,131.10 455.70,133.00 C456.38,134.90 456.37,135.90 456.20,137.20 C456.03,138.50 456.08,139.68 454.70,140.80 C453.32,141.92 450.75,143.12 447.90,143.90 C445.05,144.68 441.05,145.32 437.60,145.50 C434.15,145.68 431.02,145.52 427.20,145.00 C423.38,144.48 418.33,143.53 414.70,142.40 C411.07,141.27 407.98,139.77 405.40,138.20 C402.82,136.63 400.58,134.98 399.20,133.00 C397.82,131.02 397.18,128.53 397.10,126.30 Z" fill="#fff" stroke="#111" stroke-width="1.5"/><path d="M397.60,126.30 C397.92,126.67 398.03,127.55 399.50,128.50 C400.97,129.45 402.65,130.63 406.40,132.00 C410.15,133.37 416.80,135.67 422.00,136.70 C427.20,137.73 433.27,138.08 437.60,138.20 C441.93,138.32 445.58,137.73 448.00,137.40 C450.42,137.07 450.73,136.75 452.10,136.20 C453.47,135.65 455.52,134.45 456.20,134.10 " fill="none" stroke="#111" stroke-width="1.0"/><path d="M407.00,137.90 C407.20,136.75 407.77,132.93 408.20,131.00 C408.63,129.07 408.88,128.22 409.60,126.30 C410.32,124.38 411.12,121.57 412.50,119.50 C413.88,117.43 417.00,114.83 417.90,113.90 " fill="none" stroke="#111" stroke-width="0.8"/><path d="M414.20,141.80 C414.27,140.50 414.25,136.50 414.60,134.00 C414.95,131.50 415.48,129.13 416.30,126.80 C417.12,124.47 418.20,121.90 419.50,120.00 C420.80,118.10 423.33,116.17 424.10,115.40 " fill="none" stroke="#111" stroke-width="1.4"/><path d="M422.50,144.00 C422.57,142.83 422.63,139.35 422.90,137.00 C423.17,134.65 423.58,132.32 424.10,129.90 C424.62,127.48 425.13,124.65 426.00,122.50 C426.87,120.35 428.75,117.92 429.30,117.00 " fill="none" stroke="#111" stroke-width="0.8"/><path d="M446.40,138.20 C446.27,137.00 446.20,133.07 445.60,131.00 C445.00,128.93 443.77,127.47 442.80,125.80 C441.83,124.13 440.93,122.38 439.80,121.00 C438.67,119.62 436.63,118.08 436.00,117.50 " fill="none" stroke="#111" stroke-width="0.8"/><path d="M405.50,113.00 C406.08,112.57 406.82,110.78 409.00,110.40 C411.18,110.02 415.65,110.13 418.60,110.70 C421.55,111.27 423.72,112.67 426.70,113.80 C429.68,114.93 433.65,116.55 436.50,117.50 C439.35,118.45 441.47,118.58 443.80,119.50 C446.13,120.42 449.38,122.42 450.50,123.00 " fill="none" stroke="#111" stroke-width="0.9"/><path d="M413.50,111.00 C413.95,111.17 414.40,111.25 416.20,112.00 C418.00,112.75 421.33,114.42 424.30,115.50 C427.27,116.58 430.88,117.62 434.00,118.50 C437.12,119.38 441.50,120.42 443.00,120.80 " fill="none" stroke="#111" stroke-width="0.6"/></g>
<g transform="translate(0.00 0.00)"><path d="M397.10,126.30 C397.02,124.07 397.67,121.77 398.70,119.60 C399.73,117.43 401.48,115.03 403.30,113.30 C405.12,111.57 407.17,110.10 409.60,109.20 C412.03,108.30 414.97,107.98 417.90,107.90 C420.83,107.82 423.92,107.97 427.20,108.70 C430.48,109.43 434.48,110.67 437.60,112.30 C440.72,113.93 443.48,116.25 445.90,118.50 C448.32,120.75 450.47,123.38 452.10,125.80 C453.73,128.22 455.02,131.10 455.70,133.00 C456.38,134.90 456.37,135.90 456.20,137.20 C456.03,138.50 456.08,139.68 454.70,140.80 C453.32,141.92 450.75,143.12 447.90,143.90 C445.05,144.68 441.05,145.32 437.60,145.50 C434.15,145.68 431.02,145.52 427.20,145.00 C423.38,144.48 418.33,143.53 414.70,142.40 C411.07,141.27 407.98,139.77 405.40,138.20 C402.82,136.63 400.58,134.98 399.20,133.00 C397.82,131.02 397.18,128.53 397.10,126.30 Z" fill="#fff" stroke="#111" stroke-width="1.5"/><path d="M397.60,126.30 C397.92,126.67 398.03,127.55 399.50,128.50 C400.97,129.45 402.65,130.63 406.40,132.00 C410.15,133.37 416.80,135.67 422.00,136.70 C427.20,137.73 433.27,138.08 437.60,138.20 C441.93,138.32 445.58,137.73 448.00,137.40 C450.42,137.07 450.73,136.75 452.10,136.20 C453.47,135.65 455.52,134.45 456.20,134.10 " fill="none" stroke="#111" stroke-width="1.0"/><path d="M407.00,137.90 C407.20,136.75 407.77,132.93 408.20,131.00 C408.63,129.07 408.88,128.22 409.60,126.30 C410.32,124.38 411.12,121.57 412.50,119.50 C413.88,117.43 417.00,114.83 417.90,113.90 " fill="none" stroke="#111" stroke-width="0.8"/><path d="M414.20,141.80 C414.27,140.50 414.25,136.50 414.60,134.00 C414.95,131.50 415.48,129.13 416.30,126.80 C417.12,124.47 418.20,121.90 419.50,120.00 C420.80,118.10 423.33,116.17 424.10,115.40 " fill="none" stroke="#111" stroke-width="1.4"/><path d="M422.50,144.00 C422.57,142.83 422.63,139.35 422.90,137.00 C423.17,134.65 423.58,132.32 424.10,129.90 C424.62,127.48 425.13,124.65 426.00,122.50 C426.87,120.35 428.75,117.92 429.30,117.00 " fill="none" stroke="#111" stroke-width="0.8"/><path d="M446.40,138.20 C446.27,137.00 446.20,133.07 445.60,131.00 C445.00,128.93 443.77,127.47 442.80,125.80 C441.83,124.13 440.93,122.38 439.80,121.00 C438.67,119.62 436.63,118.08 436.00,117.50 " fill="none" stroke="#111" stroke-width="0.8"/><path d="M405.50,113.00 C406.08,112.57 406.82,110.78 409.00,110.40 C411.18,110.02 415.65,110.13 418.60,110.70 C421.55,111.27 423.72,112.67 426.70,113.80 C429.68,114.93 433.65,116.55 436.50,117.50 C439.35,118.45 441.47,118.58 443.80,119.50 C446.13,120.42 449.38,122.42 450.50,123.00 " fill="none" stroke="#111" stroke-width="0.9"/><path d="M413.50,111.00 C413.95,111.17 414.40,111.25 416.20,112.00 C418.00,112.75 421.33,114.42 424.30,115.50 C427.27,116.58 430.88,117.62 434.00,118.50 C437.12,119.38 441.50,120.42 443.00,120.80 " fill="none" stroke="#111" stroke-width="0.6"/></g>
<g transform="translate(118.80 -10.40)"><path d="M397.10,126.30 C397.02,124.07 397.67,121.77 398.70,119.60 C399.73,117.43 401.48,115.03 403.30,113.30 C405.12,111.57 407.17,110.10 409.60,109.20 C412.03,108.30 414.97,107.98 417.90,107.90 C420.83,107.82 423.92,107.97 427.20,108.70 C430.48,109.43 434.48,110.67 437.60,112.30 C440.72,113.93 443.48,116.25 445.90,118.50 C448.32,120.75 450.47,123.38 452.10,125.80 C453.73,128.22 455.02,131.10 455.70,133.00 C456.38,134.90 456.37,135.90 456.20,137.20 C456.03,138.50 456.08,139.68 454.70,140.80 C453.32,141.92 450.75,143.12 447.90,143.90 C445.05,144.68 441.05,145.32 437.60,145.50 C434.15,145.68 431.02,145.52 427.20,145.00 C423.38,144.48 418.33,143.53 414.70,142.40 C411.07,141.27 407.98,139.77 405.40,138.20 C402.82,136.63 400.58,134.98 399.20,133.00 C397.82,131.02 397.18,128.53 397.10,126.30 Z" fill="#fff" stroke="#111" stroke-width="1.5"/><path d="M397.60,126.30 C397.92,126.67 398.03,127.55 399.50,128.50 C400.97,129.45 402.65,130.63 406.40,132.00 C410.15,133.37 416.80,135.67 422.00,136.70 C427.20,137.73 433.27,138.08 437.60,138.20 C441.93,138.32 445.58,137.73 448.00,137.40 C450.42,137.07 450.73,136.75 452.10,136.20 C453.47,135.65 455.52,134.45 456.20,134.10 " fill="none" stroke="#111" stroke-width="1.0"/><path d="M407.00,137.90 C407.20,136.75 407.77,132.93 408.20,131.00 C408.63,129.07 408.88,128.22 409.60,126.30 C410.32,124.38 411.12,121.57 412.50,119.50 C413.88,117.43 417.00,114.83 417.90,113.90 " fill="none" stroke="#111" stroke-width="0.8"/><path d="M414.20,141.80 C414.27,140.50 414.25,136.50 414.60,134.00 C414.95,131.50 415.48,129.13 416.30,126.80 C417.12,124.47 418.20,121.90 419.50,120.00 C420.80,118.10 423.33,116.17 424.10,115.40 " fill="none" stroke="#111" stroke-width="1.4"/><path d="M422.50,144.00 C422.57,142.83 422.63,139.35 422.90,137.00 C423.17,134.65 423.58,132.32 424.10,129.90 C424.62,127.48 425.13,124.65 426.00,122.50 C426.87,120.35 428.75,117.92 429.30,117.00 " fill="none" stroke="#111" stroke-width="0.8"/><path d="M446.40,138.20 C446.27,137.00 446.20,133.07 445.60,131.00 C445.00,128.93 443.77,127.47 442.80,125.80 C441.83,124.13 440.93,122.38 439.80,121.00 C438.67,119.62 436.63,118.08 436.00,117.50 " fill="none" stroke="#111" stroke-width="0.8"/><path d="M405.50,113.00 C406.08,112.57 406.82,110.78 409.00,110.40 C411.18,110.02 415.65,110.13 418.60,110.70 C421.55,111.27 423.72,112.67 426.70,113.80 C429.68,114.93 433.65,116.55 436.50,117.50 C439.35,118.45 441.47,118.58 443.80,119.50 C446.13,120.42 449.38,122.42 450.50,123.00 " fill="none" stroke="#111" stroke-width="0.9"/><path d="M413.50,111.00 C413.95,111.17 414.40,111.25 416.20,112.00 C418.00,112.75 421.33,114.42 424.30,115.50 C427.27,116.58 430.88,117.62 434.00,118.50 C437.12,119.38 441.50,120.42 443.00,120.80 " fill="none" stroke="#111" stroke-width="0.6"/></g>
<g transform="translate(69.50 24.80)"><path d="M397.10,126.30 C397.02,124.07 397.67,121.77 398.70,119.60 C399.73,117.43 401.48,115.03 403.30,113.30 C405.12,111.57 407.17,110.10 409.60,109.20 C412.03,108.30 414.97,107.98 417.90,107.90 C420.83,107.82 423.92,107.97 427.20,108.70 C430.48,109.43 434.48,110.67 437.60,112.30 C440.72,113.93 443.48,116.25 445.90,118.50 C448.32,120.75 450.47,123.38 452.10,125.80 C453.73,128.22 455.02,131.10 455.70,133.00 C456.38,134.90 456.37,135.90 456.20,137.20 C456.03,138.50 456.08,139.68 454.70,140.80 C453.32,141.92 450.75,143.12 447.90,143.90 C445.05,144.68 441.05,145.32 437.60,145.50 C434.15,145.68 431.02,145.52 427.20,145.00 C423.38,144.48 418.33,143.53 414.70,142.40 C411.07,141.27 407.98,139.77 405.40,138.20 C402.82,136.63 400.58,134.98 399.20,133.00 C397.82,131.02 397.18,128.53 397.10,126.30 Z" fill="#fff" stroke="#111" stroke-width="1.5"/><path d="M397.60,126.30 C397.92,126.67 398.03,127.55 399.50,128.50 C400.97,129.45 402.65,130.63 406.40,132.00 C410.15,133.37 416.80,135.67 422.00,136.70 C427.20,137.73 433.27,138.08 437.60,138.20 C441.93,138.32 445.58,137.73 448.00,137.40 C450.42,137.07 450.73,136.75 452.10,136.20 C453.47,135.65 455.52,134.45 456.20,134.10 " fill="none" stroke="#111" stroke-width="1.0"/><path d="M407.00,137.90 C407.20,136.75 407.77,132.93 408.20,131.00 C408.63,129.07 408.88,128.22 409.60,126.30 C410.32,124.38 411.12,121.57 412.50,119.50 C413.88,117.43 417.00,114.83 417.90,113.90 " fill="none" stroke="#111" stroke-width="0.8"/><path d="M414.20,141.80 C414.27,140.50 414.25,136.50 414.60,134.00 C414.95,131.50 415.48,129.13 416.30,126.80 C417.12,124.47 418.20,121.90 419.50,120.00 C420.80,118.10 423.33,116.17 424.10,115.40 " fill="none" stroke="#111" stroke-width="1.4"/><path d="M422.50,144.00 C422.57,142.83 422.63,139.35 422.90,137.00 C423.17,134.65 423.58,132.32 424.10,129.90 C424.62,127.48 425.13,124.65 426.00,122.50 C426.87,120.35 428.75,117.92 429.30,117.00 " fill="none" stroke="#111" stroke-width="0.8"/><path d="M446.40,138.20 C446.27,137.00 446.20,133.07 445.60,131.00 C445.00,128.93 443.77,127.47 442.80,125.80 C441.83,124.13 440.93,122.38 439.80,121.00 C438.67,119.62 436.63,118.08 436.00,117.50 " fill="none" stroke="#111" stroke-width="0.8"/><path d="M405.50,113.00 C406.08,112.57 406.82,110.78 409.00,110.40 C411.18,110.02 415.65,110.13 418.60,110.70 C421.55,111.27 423.72,112.67 426.70,113.80 C429.68,114.93 433.65,116.55 436.50,117.50 C439.35,118.45 441.47,118.58 443.80,119.50 C446.13,120.42 449.38,122.42 450.50,123.00 " fill="none" stroke="#111" stroke-width="0.9"/><path d="M413.50,111.00 C413.95,111.17 414.40,111.25 416.20,112.00 C418.00,112.75 421.33,114.42 424.30,115.50 C427.27,116.58 430.88,117.62 434.00,118.50 C437.12,119.38 441.50,120.42 443.00,120.80 " fill="none" stroke="#111" stroke-width="0.6"/></g>
<path d="M567.60,129.20 C567.40,121.70 573.60,119.40 574.80,127.20 L575.10,129.70" fill="#fff" stroke="#111" stroke-width="1.1"/>
<path d="M516.40,165.00 C516.20,157.50 522.40,155.20 523.60,163.00 L523.90,165.50" fill="#fff" stroke="#111" stroke-width="1.1"/>
</svg>
</body></html>
